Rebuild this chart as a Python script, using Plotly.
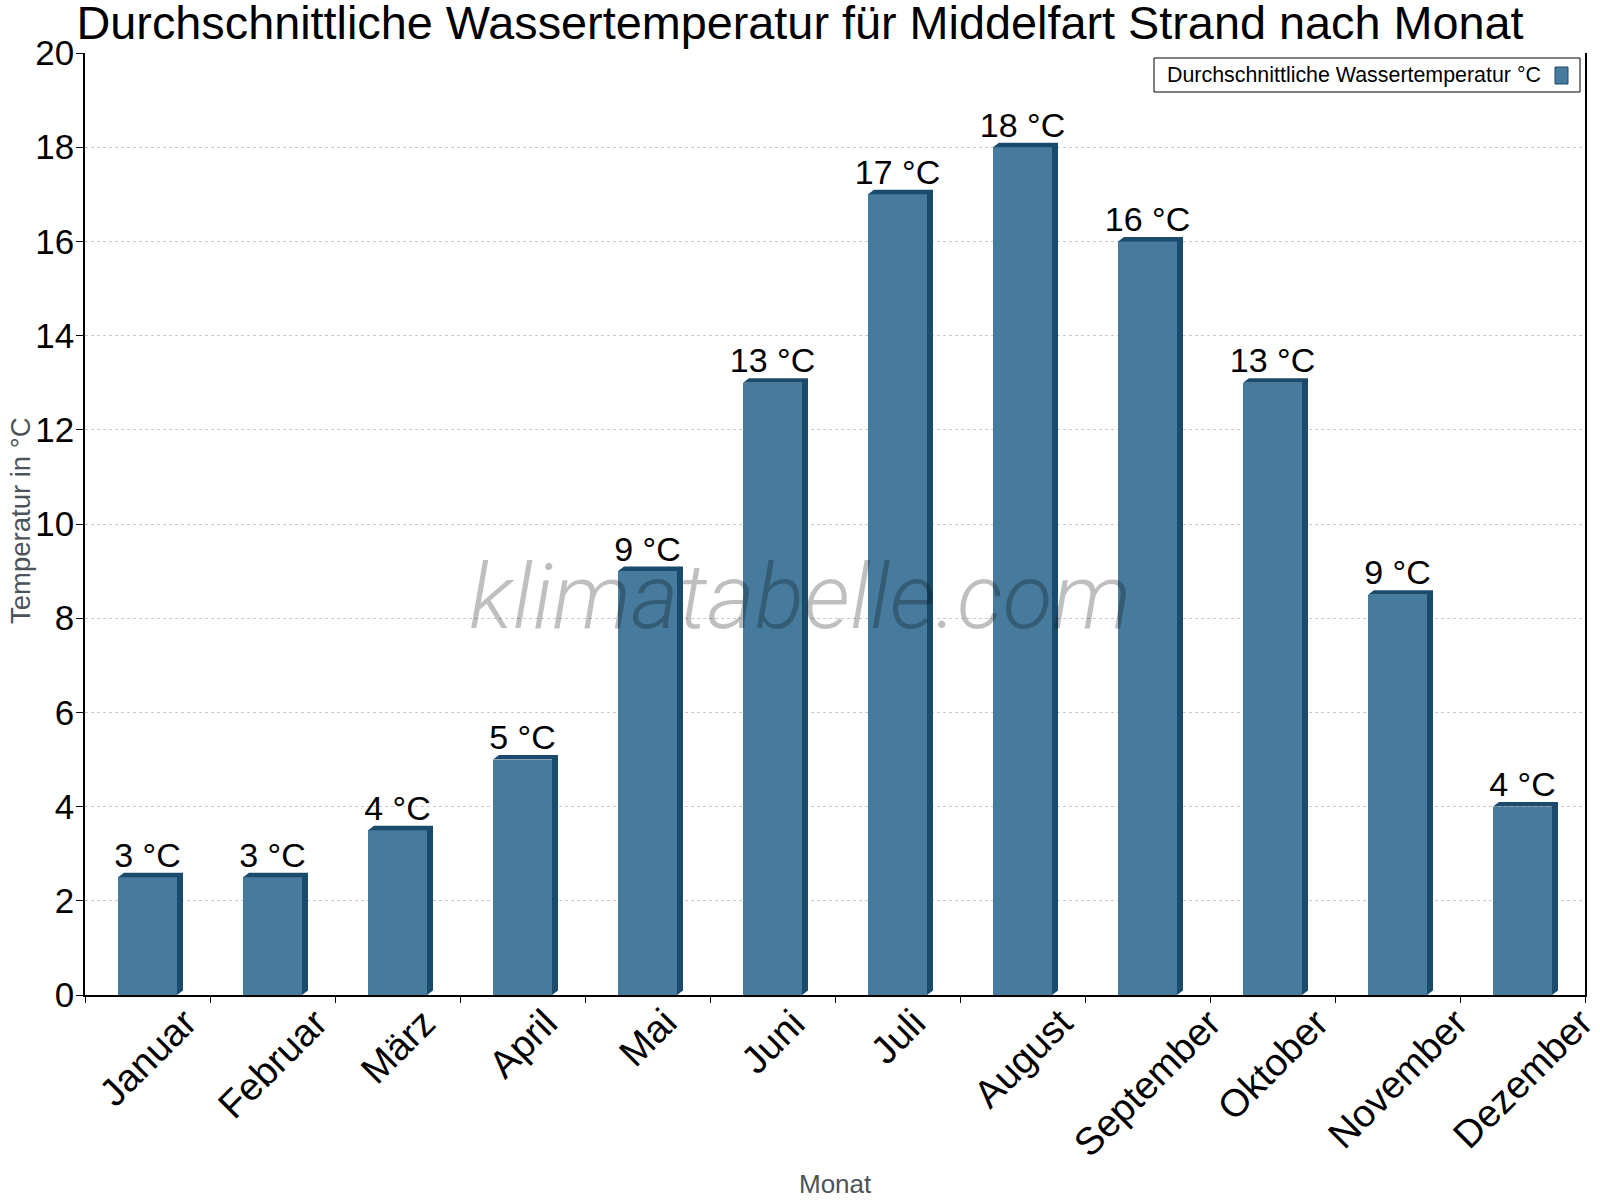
import plotly.graph_objects as go

months = ["Januar", "Februar", "März", "April", "Mai", "Juni", "Juli",
          "August", "September", "Oktober", "November", "Dezember"]
temps = [2.5, 2.5, 3.5, 5, 9, 13, 17, 18, 16, 13, 8.5, 4]
labels = ["3 °C", "3 °C", "4 °C", "5 °C", "9 °C", "13 °C", "17 °C",
          "18 °C", "16 °C", "13 °C", "9 °C", "4 °C"]
series_name = "Durchschnittliche Wassertemperatur °C"
title_text = "Durchschnittliche Wassertemperatur für Middelfart Strand nach Monat"
x_title = "Monat"
y_title = "Temperatur in °C"

FRONT = "#467b9d"
DARK = "#1a4b6c"
GRAY = "#4d535a"
FONT = "Arial, Liberation Sans, sans-serif"

W, H = 1600, 1200
ML, MR, MT, MB = 85, 15, 53, 205
PW = W - ML - MR
PH = H - MT - MB
YMAX = 20

bar_w = 0.472
dx = 6 / (PW / len(months))      # depth in category units
dy = 4.5 / (PH / YMAX)           # depth in value units

xs = list(range(len(months)))

# 3D side/top faces
px, py = [], []
for i, v in zip(xs, temps):
    xl = i - bar_w / 2
    xr = i + bar_w / 2
    px += [xl, xl + dx, xr + dx, xr + dx, xr, xr, xl, None]
    py += [v, v + dy, v + dy, dy, 0, v, v, None]

fig = go.Figure()
fig.add_trace(go.Scatter(x=px, y=py, mode="lines", fill="toself",
                         fillcolor=DARK, line=dict(width=0, color=DARK),
                         hoverinfo="skip", showlegend=False))
fig.add_trace(go.Bar(x=xs, y=temps, width=bar_w, name=series_name,
                     marker=dict(color=FRONT, line=dict(width=0)),
                     showlegend=False))
fig.add_trace(go.Scatter(x=xs, y=[v + dy * 0.45 for v in temps], mode="text",
                         text=labels, textposition="top center",
                         textfont=dict(size=34, color="black", family=FONT),
                         hoverinfo="skip", showlegend=False))

# ticks on category boundaries; month labels drawn centred under each bar
tickvals = [i - 0.5 for i in range(len(months) + 1)]

fig.update_layout(
    width=W, height=H,
    margin=dict(l=ML, r=MR, t=MT, b=MB, autoexpand=False),
    paper_bgcolor="white", plot_bgcolor="white",
    font=dict(family=FONT, color="black"),
    title=dict(text=title_text, x=0.5, xref="container", xanchor="center",
               y=1 - 23 / H, yref="container", yanchor="middle",
               font=dict(size=46.8, color="black", family=FONT)),
    bargap=0,
    showlegend=False,
    xaxis=dict(range=[-0.5, len(months) - 0.5], tickmode="array",
               tickvals=tickvals, showticklabels=False,
               ticks="outside", ticklen=6, tickcolor="black", tickwidth=1,
               showline=True, linecolor="black", linewidth=1.5,
               showgrid=False, zeroline=False, automargin=False),
    yaxis=dict(range=[0, YMAX], dtick=2, tick0=0,
               tickfont=dict(size=35, color="black"),
               ticks="outside", ticklen=7, tickcolor="black", tickwidth=1,
               ticklabelstandoff=-5,
               showline=True, linecolor="black", linewidth=1.5, mirror=True,
               showgrid=True, gridcolor="#c8c8c8", griddash="dot", gridwidth=1,
               zeroline=False, automargin=False),
)

def pxx(x):
    return (x - ML) / PW

def pyy(y):
    return (H - MB - y) / PH

# month labels (rotated, centred on each category)
for i, m in enumerate(months):
    fig.add_annotation(text=m, x=i, xref="x", y=pyy(998), yref="paper",
                       xanchor="center", yanchor="top", textangle=-45,
                       showarrow=False,
                       font=dict(size=38.5, color="black", family=FONT))

# axis titles
fig.add_annotation(text=x_title, xref="paper", yref="paper",
                   x=pxx(835), y=pyy(1184), xanchor="center", yanchor="middle",
                   showarrow=False, font=dict(size=26, color=GRAY, family=FONT))
fig.add_annotation(text=y_title, xref="paper", yref="paper", textangle=-90,
                   x=pxx(20), y=pyy(521), xanchor="center", yanchor="middle",
                   showarrow=False, font=dict(size=27.5, color=GRAY, family=FONT))

# legend box (drawn manually: symbol sits on the right of the text)
fig.add_shape(type="rect", xref="paper", yref="paper",
              x0=pxx(1154), x1=pxx(1580), y0=pyy(92), y1=pyy(58),
              line=dict(color="black", width=1), fillcolor="white", layer="above")
fig.add_shape(type="rect", xref="paper", yref="paper",
              x0=pxx(1555), x1=pxx(1568), y0=pyy(84), y1=pyy(67),
              line=dict(color=DARK, width=1), fillcolor=FRONT, layer="above")
fig.add_annotation(text=series_name, xref="paper", yref="paper",
                   x=pxx(1165), y=pyy(75), xanchor="left", yanchor="middle",
                   showarrow=False, font=dict(size=21.4, color="black", family=FONT))

# watermark
fig.add_annotation(text="<i>klimatabelle.com</i>", xref="paper", yref="paper",
                   x=pxx(800), y=pyy(596), xanchor="center", yanchor="middle",
                   showarrow=False,
                   font=dict(size=91.5, color="rgba(0,0,0,0.25)",
                             family="Roboto, Liberation Sans, sans-serif",
                             weight=300))

fig.write_html("out.html")
